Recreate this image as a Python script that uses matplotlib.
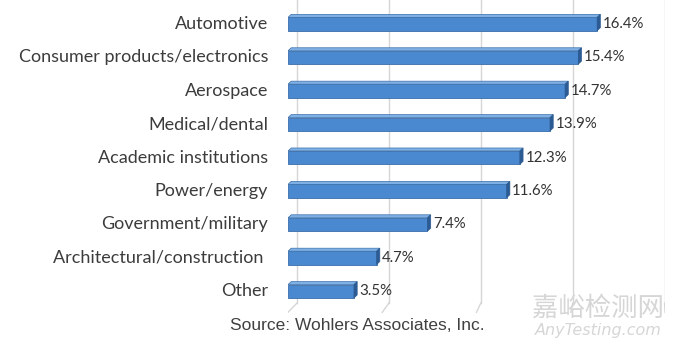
import matplotlib
matplotlib.use("Agg")
import matplotlib.pyplot as plt
from matplotlib.patches import Polygon

# ---------- Data ----------
categories = ["Automotive", "Consumer products/electronics", "Aerospace",
              "Medical/dental", "Academic institutions", "Power/energy",
              "Government/military", "Architectural/construction ", "Other"]
shares = [16.4, 15.4, 14.7, 13.9, 12.3, 11.6, 7.4, 4.7, 3.5]
grid_ticks = [0, 5, 10, 15, 20]

# ---------- Style ----------
FACE = "#4a88d0"
TOP = "#7eb0e6"
SIDE = "#2c5a92"
EDGE = "#3a6ea8"
GRID = "#d6d6d6"
TEXT = "#3c3c3c"
bar_h = 0.40
dx, dy = 0.17, 0.09   # small 3D depth of the bars

fig = plt.figure(figsize=(6.8, 3.51), dpi=100)
ax = fig.add_axes([288 / 680, 36 / 351, 377 / 680, 315 / 351])
ax.set_xlim(0, 20)
ax.set_ylim(8.71, -0.72)
ax.axis("off")

# back wall gridlines with a slanted floor edge
for v in grid_ticks:
    xb = v + 0.48 - 0.025 * v
    ax.plot([xb, xb], [-0.72, 8.35], color=GRID, lw=1.0, zorder=0)
    ax.plot([xb, v], [8.35, 8.63], color=GRID, lw=1.0, zorder=0)

ypos = list(range(len(categories)))
ax.barh(ypos, shares, height=bar_h, color=FACE, edgecolor=EDGE, lw=0.6, zorder=2)

for y, val, cat in zip(ypos, shares, categories):
    top = y - bar_h / 2
    bot = y + bar_h / 2
    # top face
    ax.add_patch(Polygon([[0, top], [val, top], [val + dx, top - dy], [dx, top - dy]],
                         closed=True, facecolor=TOP, edgecolor=EDGE, lw=0.5, zorder=2))
    # right side face
    ax.add_patch(Polygon([[val, top], [val + dx, top - dy], [val + dx, bot - dy], [val, bot]],
                         closed=True, facecolor=SIDE, edgecolor=SIDE, lw=0.5, zorder=3))
    ax.text(val + dx + 0.12, y, f"{val}%", va="center", ha="left",
            fontsize=10.8, color="#333333", family="Lato", zorder=4)
    ax.text(-1.05, y, cat, va="center", ha="right", fontsize=13,
            color=TEXT, family="Lato")

fig.text(357 / 680, 1 - 325 / 351, "Source: Wohlers Associates, Inc.",
         ha="center", va="center", fontsize=12.5, color="#404040",
         family="Liberation Sans")

# watermark
fig.text(598 / 680, 1 - 308 / 351, "嘉峪检测网", ha="center", va="center",
         fontsize=19, color="#d6d6d6", family=["Noto Sans CJK SC", "DejaVu Sans"])
fig.text(598 / 680, 1 - 330 / 351, "AnyTesting.com", ha="center", va="center",
         fontsize=11.5, color="#d6d6d6", style="italic", family="DejaVu Sans")

fig.savefig("out.png", dpi=100)
